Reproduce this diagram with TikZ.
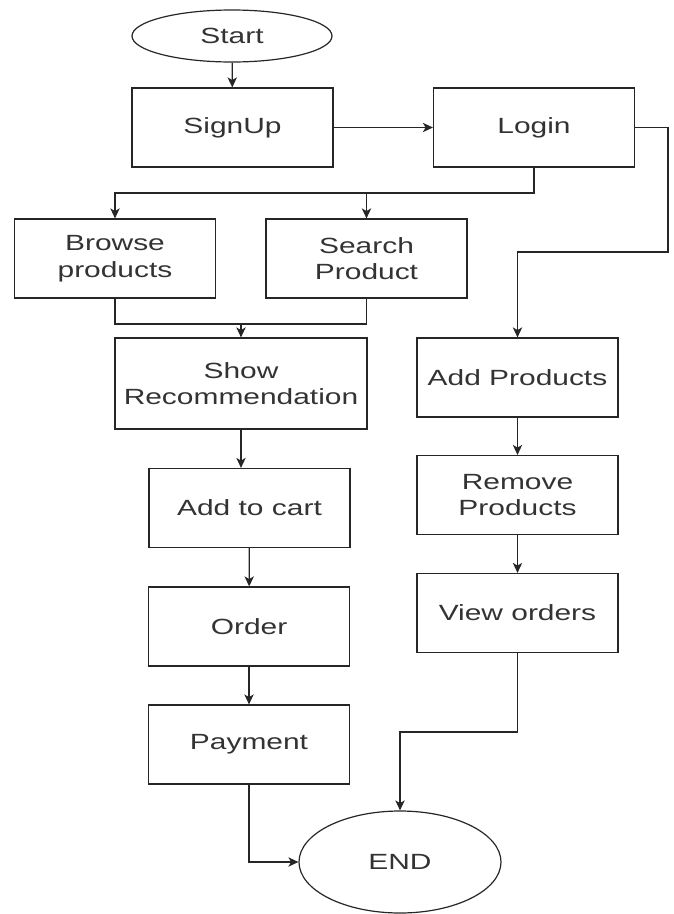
\documentclass[tikz,border=0pt]{standalone}
\usepackage{fontspec}
\setmainfont{Liberation Sans}[FakeStretch=1.36]
\usepackage{tikz}
\usetikzlibrary{shapes.geometric,arrows.meta}

\begin{document}
\begin{tikzpicture}[
		x=0.75pt, y=-0.75pt,
		line/.style={
			line width=0.9pt,
			color=black!85
			},
		arr/.style={
			line,
			-{Stealth[length=7.5pt,width=7pt,inset=2pt]}
			},
		box/.style={
			line,
			rectangle,
			inner sep=0pt,
			minimum width=150.75pt,
			minimum height=59.25pt,
			align=center,
			text=black!80,
			font=\fontsize{16.5}{20}\selectfont
			},
		term/.style={
			box,
			ellipse
			}
		]

		\useasboundingbox (0,0) rectangle (674,914);

		% user side
		\node[term, draw, minimum width=150pt, minimum height=39pt] (start) at (232,36) {Start};
		\node[box, draw] (signup) at (232.5,127.5) {SignUp};
		\node[box, draw] (login) at (534,127.5) {Login};
		\node[box, draw] (browse) at (115,258.5) {Browse\\products};
		\node[box, draw] (search) at (366.5,258.5) {Search\\Product};
		\node[box, draw, minimum width=189pt, minimum height=68.25pt] (showrec) at (241,383.5) {Show\\Recommendation};
		\node[box, draw] (cart) at (249.5,508) {Add to cart};
		\node[box, draw] (order) at (249,626.5) {Order};
		\node[box, draw] (payment) at (249,744.5) {Payment};

		% admin side
		\node[box, draw] (addprod) at (517.5,377.5) {Add Products};
		\node[box, draw] (remprod) at (517.5,495) {Remove\\Products};
		\node[box, draw] (vieword) at (517.5,613) {View orders};

		\node[term, draw, minimum width=151.5pt, minimum height=76.5pt] (end) at (400,862) {END};

		\coordinate (fork) at (534,193);
		\coordinate (merge) at (241,324);
		\coordinate (bend) at (668,252);
		\coordinate (drop) at (400,732);

		\draw[arr] (start) -- (signup);
		\draw[arr] (signup) -- (login);
		\draw[arr] (login.south) -- (fork) -| (browse.north);
		\draw[arr] (search.north |- fork) -- (search.north);
		\draw[line] (browse.south) |- (merge) -| (search.south);
		\draw[arr] (merge) -- (showrec.north);
		\draw[arr] (showrec.south) -- (showrec.south |- cart.north);
		\draw[arr] (cart) -- (order);
		\draw[arr] (order) -- (payment);
		\draw[arr] (payment.south) |- (end.west);

		\draw[arr] (login.east) -| (bend) -| (addprod.north);
		\draw[arr] (addprod) -- (remprod);
		\draw[arr] (remprod) -- (vieword);
		\draw[arr] (vieword.south) |- (drop) -| (end.north);

	\end{tikzpicture}
\end{document}
